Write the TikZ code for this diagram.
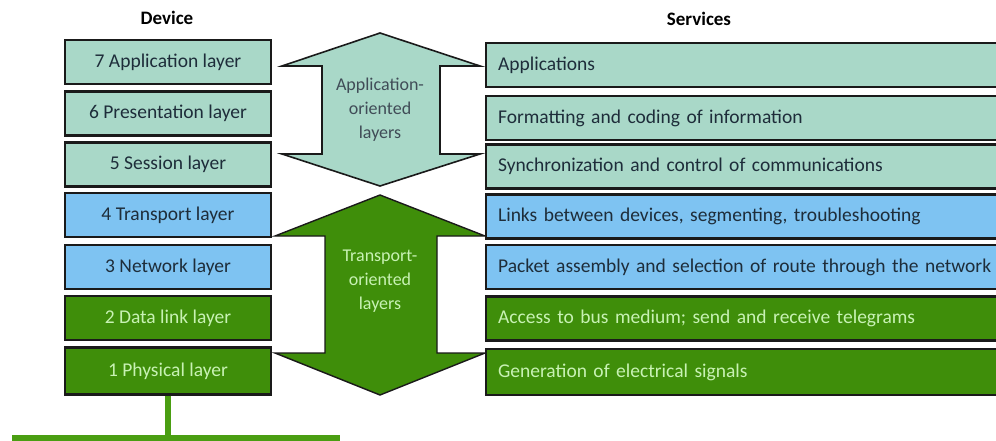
\documentclass[tikz,border=0pt]{standalone}
\usepackage{fontspec}
\setmainfont{Carlito}
\definecolor{teal}{HTML}{A9D8C8}
\definecolor{blu}{HTML}{7EC3F2}
\definecolor{grn}{HTML}{3F8E0A}
\definecolor{grnline}{HTML}{4A9E12}
\definecolor{dtext}{HTML}{1E2D3A}
\definecolor{ltext}{HTML}{C8F2B4}
\definecolor{edge}{HTML}{1A1A1A}
\tikzset{
  lbox/.style={draw=edge, line width=2.2pt, minimum width=206pt, minimum height=44pt, inner sep=0pt, font=\fontsize{19.5}{22}\selectfont},
  rbox/.style={draw=edge, line width=2.2pt, anchor=west, minimum width=530pt, minimum height=44pt, text width=506pt, align=left, inner xsep=12pt, inner ysep=0pt, font=\fontsize{19.5}{22}\selectfont},
  tealc/.style={fill=teal, text=dtext},
  bluc/.style={fill=blu, text=dtext},
  grnc/.style={fill=grn, text=ltext},
  head/.style={font=\bfseries\fontsize{19}{22}\selectfont, text=black},
  arrowlbl/.style={align=center, font=\fontsize{18}{24}\selectfont}
}
\begin{document}
\begin{tikzpicture}[x=1pt,y=-1pt]
\useasboundingbox (0,0) rectangle (996,441);
\clip (0,0) rectangle (996,441);
\fill[white] (0,0) rectangle (996,441);
% headers
\node[head] (hdev) at (167,18) {Device};
\node[head] (hsrv) at (699,19) {Services};
% arrows
\filldraw[fill=teal, draw=edge, line width=1.6pt, line join=miter]
  (380,33) -- (480,66) -- (440,66) -- (440,154) -- (480,154) -- (380,186)
  -- (282,154) -- (322,154) -- (322,66) -- (282,66) -- cycle;
\node[arrowlbl, text=dtext!85] (appl) at (380,110) {Application-\\oriented\\layers};
\filldraw[fill=grn, draw=edge, line width=1.4pt, line join=miter]
  (380,195) -- (485,236) -- (437,236) -- (437,353) -- (485,353) -- (380,395)
  -- (275,353) -- (325,353) -- (325,236) -- (275,236) -- cycle;
\node[arrowlbl, text=ltext] (trl) at (380,281) {Transport-\\oriented\\layers};
% left boxes
\node[lbox, tealc] (l7) at (168,62) {7 Application layer};
\node[lbox, tealc] (l6) at (168,113.5) {6 Presentation layer};
\node[lbox, tealc] (l5) at (168,164.5) {5 Session layer};
\node[lbox, bluc] (l4) at (168,215) {4 Transport layer};
\node[lbox, bluc] (l3) at (168,267) {3 Network layer};
\node[lbox, grnc] (l2) at (168,318) {2 Data link layer};
\node[lbox, grnc, minimum height=47pt] (l1) at (168,371) {1 Physical layer};
% right boxes
\node[rbox, tealc] (r7) at (485,65) {Applications};
\node[rbox, tealc] (r6) at (485,118) {Formatting and coding of information};
\node[rbox, tealc] (r5) at (485,166.5) {Synchronization and control of communications};
\node[rbox, bluc] (r4) at (485,216.5) {Links between devices, segmenting, troubleshooting};
\node[rbox, bluc] (r3) at (485,267) {Packet assembly and selection of route through the network};
\node[rbox, grnc] (r2) at (485,318.5) {Access to bus medium; send and receive telegrams};
\node[rbox, grnc, minimum height=46pt] (r1) at (485,372) {Generation of electrical signals};
% bus
\node[fill=grnline, minimum width=328pt, minimum height=12pt, inner sep=0pt, anchor=north west] (bus) at (12,435) {};
\draw[grnline, line width=6pt] (l1.south) -- (l1.south |- bus.north);
\end{tikzpicture}
\end{document}
